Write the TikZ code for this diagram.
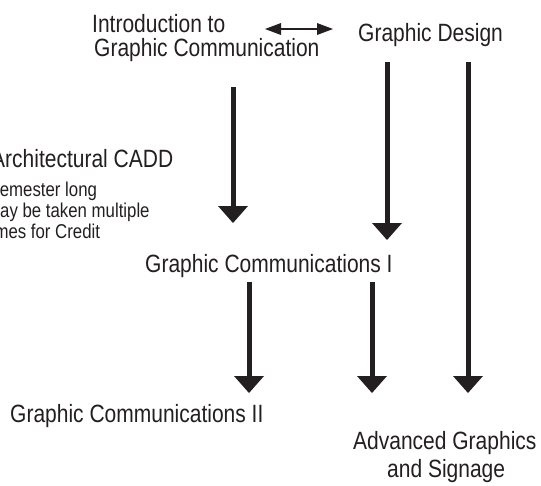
\documentclass[tikz,border=0pt]{standalone}
\usepackage{fontspec}
\setmainfont{Liberation Sans}[FakeStretch=0.84]
\usetikzlibrary{arrows.meta}
\definecolor{ink}{HTML}{231F20}
\begin{document}
\begin{tikzpicture}[x=1pt,y=-1pt,
  big/.style={inner sep=0pt, anchor=base west, text=ink, font=\fontsize{25}{25}\selectfont},
  small/.style={inner sep=0pt, anchor=base west, text=ink, font=\fontsize{20}{20}\selectfont},
  bigarrow/.style={draw=ink, line width=5pt, -{Triangle[width=30pt,length=17pt,line width=0pt]}},
  dblarrow/.style={draw=ink, line width=2.5pt, {Triangle[width=12pt,length=16pt,line width=0pt]}-{Triangle[width=12pt,length=16pt,line width=0pt]}}
]
\useasboundingbox (0,0) rectangle (541,485);
\clip (0,0) rectangle (541,485);
\node[big] (intro) at (92,32) {Introduction to};
\node[big] (introb) at (94,56) {Graphic Communication};
\node[big] (gd) at (358,41) {Graphic Design};
\node[big] (arch) at (-9,167) {Architectural CADD};
\node[small] (s1) at (-11.5,196) {Semester long};
\node[small] (s2) at (-14,217) {May be taken multiple};
\node[small] (s3) at (-19,238) {Times for Credit};
\node[big] (gc1) at (145,272) {Graphic Communications I};
\node[big] (gc2) at (10,422) {Graphic Communications II};
\node[big] (adv) at (353,449) {Advanced Graphics};
\node[big] (sign) at (387,477) {and Signage};
\coordinate (a1) at (233,87);  \coordinate (a2) at (233,223);
\coordinate (b1) at (387,62);  \coordinate (b2) at (387,240);
\coordinate (c1) at (468,62);  \coordinate (c2) at (468,393);
\coordinate (d1) at (249,282); \coordinate (d2) at (249,393);
\coordinate (e1) at (372,282); \coordinate (e2) at (372,393);
\coordinate (h1) at (265,29);  \coordinate (h2) at (333,29);
\draw[dblarrow] (h1) -- (h2);
\draw[bigarrow] (a1) -- (a2);
\draw[bigarrow] (b1) -- (b2);
\draw[bigarrow] (c1) -- (c2);
\draw[bigarrow] (d1) -- (d2);
\draw[bigarrow] (e1) -- (e2);
\end{tikzpicture}
\end{document}
